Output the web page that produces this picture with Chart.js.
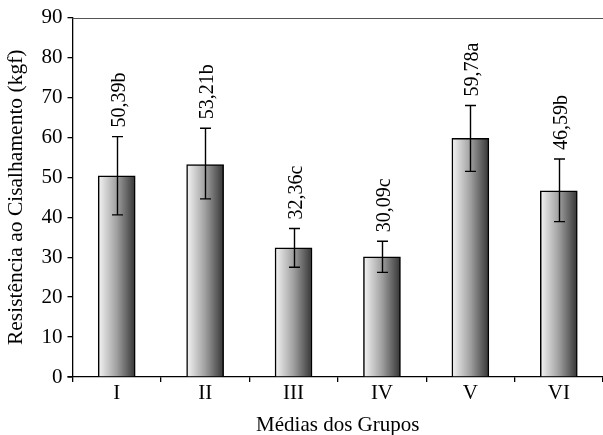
<!DOCTYPE html>
<html>
<head>
<meta charset="utf-8">
<script src="https://cdn.jsdelivr.net/npm/chart.js@4"></script>
<style>
  html, body { margin: 0; padding: 0; background: #fff; }
  #wrap { width: 603px; height: 435px; }
</style>
</head>
<body>
<div id="wrap"><canvas id="chart1"></canvas></div>
<script>
const groups = ['I', 'II', 'III', 'IV', 'V', 'VI'];
const means = [50.39, 53.21, 32.36, 30.09, 59.78, 46.59];
const errLow = [40.6, 44.6, 27.5, 26.2, 51.5, 38.9];
const errHigh = [60.2, 62.3, 37.2, 34.0, 68.0, 54.6];
const letters = ['50,39b', '53,21b', '32,36c', '30,09c', '59,78a', '46,59b'];

const serif = "'Liberation Serif', 'DejaVu Serif', serif";

// horizontal light-to-dark gradient on each bar
function barGradient(context) {
    const chart = context.chart;
    const xs = chart.scales.x;
    if (!xs || context.dataIndex === undefined) return '#999';
    const cx = xs.getPixelForValue(context.dataIndex);
    if (!isFinite(cx)) return '#999';
    const g = chart.ctx.createLinearGradient(cx - 18, 0, cx + 18, 0);
    g.addColorStop(0, '#f2f2f2');
    g.addColorStop(0.5, '#a0a0a0');
    g.addColorStop(1, '#383838');
    return g;
}

// error bars, value labels and the top frame line
const extras = {
    id: 'extras',
    afterDatasetsDraw(chart) {
        const ctx = chart.ctx;
        const xs = chart.scales.x;
        const ys = chart.scales.y;
        const area = chart.chartArea;
        ctx.save();
        ctx.strokeStyle = '#000';
        ctx.lineWidth = 1.4;
        groups.forEach((g, i) => {
            const x = Math.round(xs.getPixelForValue(i)) + 0.5;
            const yl = ys.getPixelForValue(errLow[i]);
            const yh = ys.getPixelForValue(errHigh[i]);
            ctx.beginPath();
            ctx.moveTo(x, yl); ctx.lineTo(x, yh);
            ctx.moveTo(x - 5.5, yl); ctx.lineTo(x + 5.5, yl);
            ctx.moveTo(x - 5.5, yh); ctx.lineTo(x + 5.5, yh);
            ctx.stroke();

            ctx.save();
            ctx.translate(x + 2, yh - 9);
            ctx.rotate(-Math.PI / 2);
            ctx.fillStyle = '#000';
            ctx.font = '20px ' + serif;
            ctx.textAlign = 'left';
            ctx.textBaseline = 'middle';
            ctx.fillText(letters[i], 0, 0);
            ctx.restore();
        });
        // top frame
        ctx.strokeStyle = '#555';
        ctx.lineWidth = 1.2;
        ctx.beginPath();
        ctx.moveTo(area.left, Math.round(area.top) + 0.5);
        ctx.lineTo(chart.width, Math.round(area.top) + 0.5);
        ctx.stroke();
        // x axis a bit past the y axis
        ctx.strokeStyle = '#000';
        ctx.lineWidth = 1.3;
        ctx.beginPath();
        ctx.moveTo(area.left - 5, area.bottom);
        ctx.lineTo(area.left, area.bottom);
        ctx.stroke();
        ctx.restore();
    }
};

document.addEventListener('DOMContentLoaded', function () {
    const ctx = document.getElementById('chart1').getContext('2d');
    new Chart(ctx, {
        type: 'bar',
        data: {
            labels: groups,
            datasets: [{
                label: 'Resistência',
                data: means,
                backgroundColor: barGradient,
                borderColor: '#000',
                borderWidth: 1.5,
                barThickness: 37
            }]
        },
        options: {
            responsive: true,
            maintainAspectRatio: false,
            animation: false,
            layout: { padding: { left: 6, top: 6, right: 0, bottom: 0 } },
            plugins: {
                legend: { display: false },
                tooltip: { enabled: false }
            },
            scales: {
                x: {
                    grid: {
                        offset: true,
                        drawOnChartArea: false,
                        drawTicks: true,
                        tickLength: 5,
                        color: '#000',
                        lineWidth: 1.3
                    },
                    border: { color: '#000', width: 1.3 },
                    ticks: {
                        color: '#000',
                        font: { family: serif, size: 21, lineHeight: 1.1 },
                        padding: 0
                    },
                    title: {
                        display: true,
                        text: 'Médias dos Grupos',
                        color: '#000',
                        font: { family: serif, size: 21, lineHeight: 0.9 },
                        padding: { top: 11, bottom: 0 }
                    }
                },
                y: {
                    min: 0,
                    max: 90,
                    ticks: {
                        stepSize: 10,
                        color: '#000',
                        font: { family: serif, size: 21 },
                        padding: 5
                    },
                    grid: {
                        drawOnChartArea: false,
                        tickLength: 5,
                        color: '#000',
                        lineWidth: 1.3
                    },
                    border: { color: '#000', width: 1.3 },
                    title: {
                        display: true,
                        text: 'Resistência ao Cisalhamento (kgf)',
                        color: '#000',
                        font: { family: serif, size: 21.5, lineHeight: 1.0 },
                        padding: { top: 0, bottom: 9 }
                    }
                }
            }
        },
        plugins: [extras]
    });
});
</script>
</body>
</html>
